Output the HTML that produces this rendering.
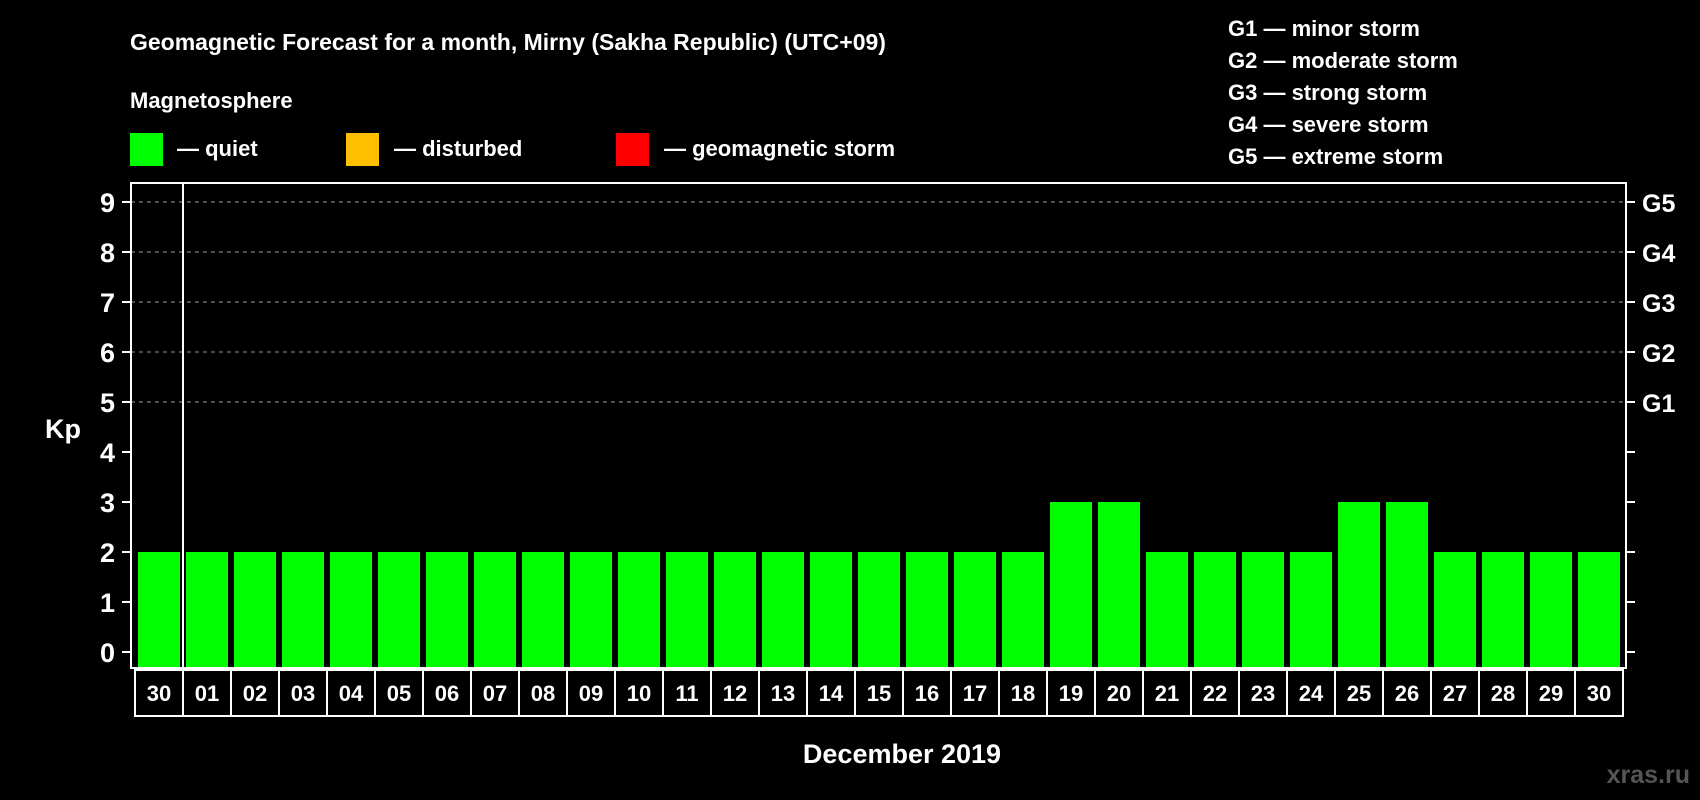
<!DOCTYPE html>
<html><head><meta charset="utf-8"><style>
html,body{margin:0;padding:0;background:#000;}
svg{display:block;font-family:"Liberation Sans",Arial,sans-serif;font-weight:bold;}
</style></head><body>
<svg id="chart" width="1700" height="800" viewBox="0 0 1700 800">
<rect width="1700" height="800" fill="#000"/>
<text x="130" y="50" fill="#fff" font-size="23">Geomagnetic Forecast for a month, Mirny (Sakha Republic) (UTC+09)</text>
<text x="130" y="108" fill="#fff" font-size="22">Magnetosphere</text>
<g>
<rect x="130" y="133" width="33" height="33" fill="#00ff00"/>
<text x="177" y="156" fill="#fff" font-size="22">— quiet</text></g>
<g>
<rect x="346" y="133" width="33" height="33" fill="#ffc000"/>
<text x="394" y="156" fill="#fff" font-size="22">— disturbed</text></g>
<g>
<rect x="616" y="133" width="33" height="33" fill="#ff0000"/>
<text x="664" y="156" fill="#fff" font-size="22">— geomagnetic storm</text></g>
<g fill="#fff" font-size="22">
<text x="1228" y="36">G1 — minor storm</text>
<text x="1228" y="68">G2 — moderate storm</text>
<text x="1228" y="100">G3 — strong storm</text>
<text x="1228" y="132">G4 — severe storm</text>
<text x="1228" y="164">G5 — extreme storm</text>
</g>
<text x="63" y="438" fill="#fff" font-size="27" text-anchor="middle">Kp</text>
<text x="902" y="763" fill="#fff" font-size="27" text-anchor="middle">December 2019</text>
<text x="1690" y="783" fill="#555" font-size="25" text-anchor="end">xras.ru</text>
<g id="grid"></g><g id="bars"></g><g id="axes"></g>
</svg>
<script>
const dates=["30","01","02","03","04","05","06","07","08","09","10","11","12","13","14","15","16","17","18","19","20","21","22","23","24","25","26","27","28","29","30"];
const kpValues=[2,2,2,2,2,2,2,2,2,2,2,2,2,2,2,2,2,2,2,3,3,2,2,2,2,3,3,2,2,2,2];
const yTicks=[0,1,2,3,4,5,6,7,8,9];
const gLabels=[[5,"G1"],[6,"G2"],[7,"G3"],[8,"G4"],[9,"G5"]];
const NS="http://www.w3.org/2000/svg";
const L=131,R=1626,T=183,B=668,pitch=48,x0=135;
const y=v=>652-v*50;
const xc=i=>x0+pitch*i+pitch/2;
function mk(tag,attrs,parent){const e=document.createElementNS(NS,tag);for(const k in attrs)e.setAttribute(k,attrs[k]);parent.appendChild(e);return e;}
const grid=document.getElementById('grid'),bars=document.getElementById('bars'),axes=document.getElementById('axes');
yTicks.forEach(v=>{
 if(v>=5){const g=mk('line',{x1:L,x2:R,y1:y(v),y2:y(v),stroke:'#999','stroke-dasharray':'4,4','stroke-width':1},grid);
 
 }
 const t=mk('line',{x1:L-9,x2:L,y1:y(v),y2:y(v),stroke:'#fff','stroke-width':2},axes);
 
 
 const t2=mk('line',{x1:R,x2:R+9,y1:y(v),y2:y(v),stroke:'#fff','stroke-width':2},axes);
 
 
 const lb=mk('text',{x:115,y:y(v)+10,fill:'#fff','font-size':27,'text-anchor':'end'},axes);lb.textContent=v;
 
 
});
gLabels.forEach(([v,s])=>{const lb=mk('text',{x:R+16,y:y(v)+10,fill:'#fff','font-size':25},axes);lb.textContent=s;
 
 });
kpValues.forEach((v,i)=>{
 const c=v>=5?'#ff0000':(v>=4?'#ffc000':'#00ff00');
 const b=mk('rect',{x:xc(i)-21,y:y(v),width:42,height:B-y(v),fill:c},bars);
 
 
});
const fr=mk('rect',{x:L,y:T,width:R-L,height:B-T,fill:'none',stroke:'#fff','stroke-width':2},axes);


const dv=mk('line',{x1:x0+pitch,x2:x0+pitch,y1:T,y2:B,stroke:'#fff','stroke-width':2},axes);


const db=mk('rect',{x:x0,y:670,width:pitch*dates.length,height:46,fill:'none',stroke:'#fff','stroke-width':2},axes);


dates.forEach((d,i)=>{
 if(i>0){const s=mk('line',{x1:x0+pitch*i,x2:x0+pitch*i,y1:670,y2:716,stroke:'#fff','stroke-width':2},axes);
 
 }
 const t=mk('text',{x:xc(i),y:701,fill:'#fff','font-size':22,'text-anchor':'middle'},axes);t.textContent=d;
 
 
});
</script>
</body></html>
